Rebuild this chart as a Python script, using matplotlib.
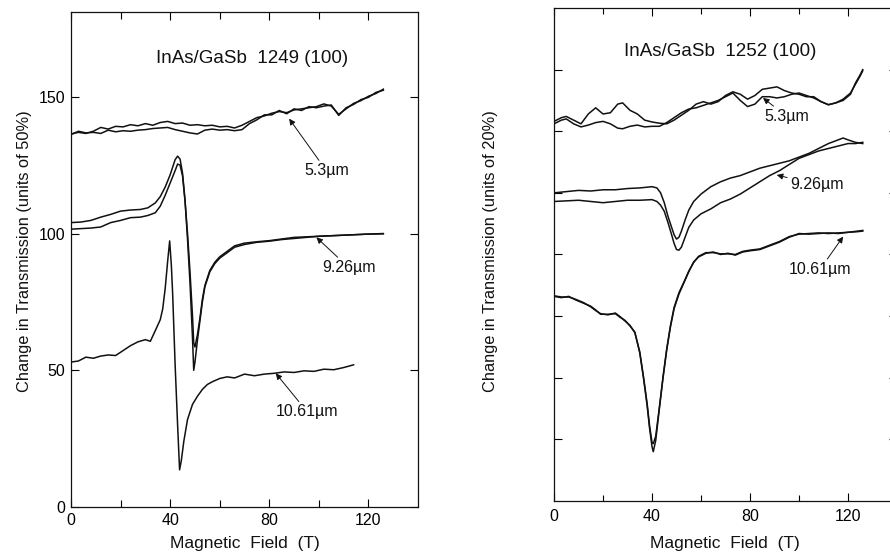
import numpy as np
import matplotlib
matplotlib.use("Agg")
import matplotlib.pyplot as plt
from matplotlib.ticker import MultipleLocator

plt.rcParams['font.family'] = ['Liberation Sans', 'DejaVu Sans']

# ---- sample 1249 (left), units of 50% ----
x53_l = [0, 3, 6, 9, 12, 15, 18, 21, 24, 27, 30, 33, 36, 39, 42, 45, 48, 51, 54, 57, 60, 63,
         66, 69, 72, 75, 78, 81, 84, 87, 90, 93, 96, 99, 102, 105, 108, 111, 114, 117, 120, 123, 126]
y53_l_a = [136.4, 137.0, 136.6, 137.4, 138.8, 138.2, 139.2, 139.0, 139.8, 139.4, 140.2, 139.6, 140.6,
           141.0, 140.2, 140.4, 139.6, 139.8, 139.4, 139.6, 139.0, 139.2, 138.6, 139.6, 141.0, 142.4,
           143.0, 144.0, 144.6, 144.2, 145.2, 145.6, 146.0, 146.4, 147.4, 146.6, 143.6, 145.6, 147.6,
           148.6, 150.2, 151.2, 152.8]
y53_l_b = [136.2, 137.4, 136.8, 137.0, 136.6, 137.8, 137.2, 137.6, 137.4, 137.8, 138.0, 138.4, 138.6,
           138.8, 138.0, 137.4, 136.8, 136.4, 137.8, 138.2, 137.8, 138.0, 137.6, 138.0, 140.2, 141.6,
           143.4, 143.4, 145.0, 143.8, 145.6, 145.0, 146.4, 146.0, 146.6, 147.0, 143.2, 146.0, 147.2,
           149.0, 149.8, 151.6, 152.4]

x926_l = [0, 4, 8, 12, 16, 20, 24, 28, 31, 34, 36, 38, 40, 42, 43, 44, 45, 46, 47, 48, 49, 49.5, 50,
          51, 52, 53, 54, 56, 58, 60, 63, 66, 70, 75, 80, 85, 90, 95, 100, 105, 110, 115, 120, 126]
y926_l_a = [104.0, 104.2, 104.8, 106.0, 107.0, 108.2, 108.6, 108.8, 109.4, 111.2, 113.5, 117.0, 121.5,
            127.0, 128.3, 127.2, 122, 112, 100, 86, 70, 60, 58.5, 63, 69, 76, 81, 86.5, 89.5, 91.5,
            93.5, 95.5, 96.5, 97.0, 97.4, 98.0, 98.6, 98.8, 99.0, 99.2, 99.4, 99.6, 99.8, 100.0]
y926_l_b = [101.6, 101.8, 102.0, 102.4, 104.0, 104.8, 105.8, 106.0, 106.6, 107.6, 110.0, 114.0, 118.5,
            123.0, 125.4, 125.0, 121, 112, 98, 82, 62, 50, 53, 61, 68, 75, 80.5, 86, 89, 91, 93, 95,
            96, 96.8, 97.2, 97.8, 98.2, 98.6, 99.0, 99.2, 99.4, 99.6, 99.8, 99.9]

x1061_l = [0, 3, 6, 9, 12, 15, 18, 21, 24, 27, 30, 32, 34, 36, 37, 38, 39, 39.8, 40.5, 41, 42, 43,
           43.8, 44.5, 45.5, 47, 49, 51, 53, 55, 57, 60, 63, 66, 70, 74, 78, 82, 86, 90, 94, 98,
           102, 106, 110, 114]
y1061_l = [53.0, 53.4, 54.8, 54.4, 55.2, 55.6, 55.4, 57.2, 59.0, 60.4, 61.2, 60.6, 64.5, 68.5, 72.5,
           80.0, 90.0, 97.3, 88, 78, 52, 30, 13.6, 17, 24, 32, 37.5, 40.5, 43, 44.8, 45.8, 47.0,
           47.6, 47.2, 48.6, 48.0, 48.6, 48.9, 49.4, 49.2, 49.8, 49.6, 50.4, 50.2, 51.0, 52.0]

# ---- sample 1252 (right), units of 20% ----
x53_r = [0, 3, 5, 8, 11, 14, 17, 20, 23, 26, 28, 31, 34, 37, 40, 43, 46, 49, 52, 55, 58, 61, 64,
         67, 70, 73, 76, 79, 82, 85, 88, 91, 94, 97, 100, 103, 106, 109, 112, 115, 118, 121, 123,
         125, 126]
y53_r_a = [6.16, 6.22, 6.24, 6.18, 6.12, 6.28, 6.38, 6.28, 6.30, 6.44, 6.46, 6.34, 6.28, 6.18, 6.15,
           6.13, 6.12, 6.18, 6.26, 6.34, 6.44, 6.48, 6.44, 6.48, 6.58, 6.64, 6.60, 6.52, 6.58, 6.68,
           6.70, 6.72, 6.66, 6.62, 6.60, 6.56, 6.56, 6.48, 6.43, 6.46, 6.50, 6.60, 6.78, 6.92, 7.00]
y53_r_b = [6.12, 6.18, 6.20, 6.12, 6.07, 6.10, 6.14, 6.16, 6.12, 6.05, 6.04, 6.08, 6.10, 6.07, 6.08,
           6.08, 6.14, 6.22, 6.30, 6.36, 6.38, 6.42, 6.46, 6.50, 6.56, 6.62, 6.50, 6.40, 6.44, 6.56,
           6.56, 6.54, 6.56, 6.60, 6.62, 6.58, 6.54, 6.48, 6.43, 6.46, 6.52, 6.62, 6.76, 6.90, 6.98]

x926_r = [0, 5, 10, 15, 20, 25, 30, 35, 40, 42, 43.5, 45, 46.5, 48, 49, 50, 51, 52, 53.5, 55, 57,
          60, 64, 68, 72, 76, 80, 84, 88, 92, 96, 100, 104, 108, 112, 116, 118, 120, 123, 126]
y926_r_a = [5.00, 5.02, 5.04, 5.03, 5.05, 5.05, 5.07, 5.08, 5.10, 5.08, 5.00, 4.84, 4.62, 4.44, 4.32,
            4.25, 4.28, 4.38, 4.56, 4.72, 4.86, 4.98, 5.10, 5.18, 5.24, 5.28, 5.34, 5.40, 5.44, 5.48,
            5.52, 5.58, 5.64, 5.72, 5.80, 5.86, 5.89, 5.86, 5.82, 5.80]
y926_r_b = [4.86, 4.87, 4.88, 4.86, 4.84, 4.86, 4.88, 4.88, 4.89, 4.86, 4.80, 4.70, 4.52, 4.32, 4.18,
            4.08, 4.07, 4.12, 4.28, 4.44, 4.56, 4.66, 4.74, 4.84, 4.90, 4.98, 5.08, 5.18, 5.28, 5.36,
            5.46, 5.56, 5.62, 5.68, 5.72, 5.76, 5.78, 5.80, 5.80, 5.82]

x1061_r = [0, 3, 6, 9, 12, 15, 17, 19, 22, 25, 27, 29, 31, 33, 35, 36.5, 38, 39, 40, 40.5, 41.5, 43,
           44.5, 46, 47.5, 49, 51, 53, 55, 57, 59, 62, 65, 68, 71, 74, 77, 80, 84, 88, 92, 96, 100,
           104, 108, 112, 116, 120, 124, 126]
y1061_r_a = [3.32, 3.30, 3.32, 3.26, 3.21, 3.16, 3.10, 3.03, 3.03, 3.04, 2.98, 2.93, 2.84, 2.74, 2.40,
             2.00, 1.55, 1.18, 0.88, 0.80, 0.98, 1.50, 2.00, 2.45, 2.82, 3.12, 3.36, 3.54, 3.72, 3.88,
             3.96, 4.02, 4.04, 4.00, 4.02, 3.99, 4.04, 4.06, 4.08, 4.14, 4.20, 4.28, 4.34, 4.33, 4.34,
             4.35, 4.34, 4.36, 4.37, 4.38]
y1061_r_b = [3.33, 3.31, 3.31, 3.27, 3.22, 3.15, 3.09, 3.04, 3.02, 3.05, 2.99, 2.92, 2.85, 2.73, 2.42,
             2.02, 1.58, 1.22, 0.95, 0.93, 1.05, 1.52, 2.02, 2.47, 2.84, 3.14, 3.38, 3.55, 3.73, 3.87,
             3.97, 4.03, 4.03, 4.01, 4.01, 4.00, 4.05, 4.07, 4.09, 4.15, 4.21, 4.29, 4.33, 4.34, 4.35,
             4.34, 4.35, 4.36, 4.38, 4.39]

ink = '#111111'
lw = 1.1

fig = plt.figure(figsize=(8.9, 5.54), dpi=100)
ax1 = fig.add_axes([0.0798, 0.0848, 0.3899, 0.8935])
ax2 = fig.add_axes([0.6225, 0.0957, 0.3854, 0.8899])

# left panel
for xs, ys in [(x53_l, y53_l_a), (x53_l, y53_l_b), (x926_l, y926_l_a), (x926_l, y926_l_b),
               (x1061_l, y1061_l)]:
    ax1.plot(xs, ys, color=ink, lw=lw)
ax1.set_xlim(0, 140)
ax1.set_ylim(0, 181)
ax1.set_xticks([0, 40, 80, 120])
ax1.set_xticks([20, 60, 100], minor=True)
ax1.set_yticks([0, 50, 100, 150])
ax1.tick_params(direction='in', top=True, right=True, length=6, width=0.8, labelsize=11.5, pad=4)
ax1.tick_params(which='minor', direction='in', top=True, length=5, width=0.8)
ax1.text(73, 164, 'InAs/GaSb  1249 (100)', ha='center', va='center', fontsize=13.5, color=ink)
ax1.set_xlabel('Magnetic  Field  (T)', fontsize=12.5, color=ink)
ax1.xaxis.set_label_coords(0.50, -0.058)
ax1.set_ylabel('Change in Transmission (units of 50%)', fontsize=11.8, color=ink)
ax1.yaxis.set_label_coords(-0.112, 0.517)

arrow = dict(arrowstyle='-|>', lw=0.7, color=ink, mutation_scale=9, shrinkA=0, shrinkB=0)
ax1.annotate('5.3\u00b5m', xy=(88, 142), xytext=(103, 123), ha='center', va='center',
             fontsize=11.5, color=ink, arrowprops=arrow)
ax1.annotate('9.26\u00b5m', xy=(99, 98.6), xytext=(112, 87.6), ha='center', va='center',
             fontsize=11.5, color=ink, arrowprops=arrow)
ax1.annotate('10.61\u00b5m', xy=(82.6, 48.9), xytext=(95.3, 34.8), ha='center', va='center',
             fontsize=11.5, color=ink, arrowprops=arrow)

# right panel
for xs, ys in [(x53_r, y53_r_a), (x53_r, y53_r_b), (x926_r, y926_r_a), (x926_r, y926_r_b),
               (x1061_r, y1061_r_a), (x1061_r, y1061_r_b)]:
    ax2.plot(xs, ys, color=ink, lw=lw)
ax2.set_xlim(0, 140)
ax2.set_ylim(0, 8)
ax2.set_xticks([0, 40, 80, 120])
ax2.set_xticks([20, 60, 100], minor=True)
ax2.set_yticks(range(1, 8))
ax2.tick_params(direction='in', top=True, right=True, length=6, width=0.8, labelsize=11.5,
                labelleft=False, pad=6)
ax2.tick_params(which='minor', direction='in', top=True, length=4, width=0.8)
ax2.text(67.8, 7.29, 'InAs/GaSb  1252 (100)', ha='center', va='center', fontsize=13.5, color=ink)
ax2.set_xlabel('Magnetic  Field  (T)', fontsize=12.5, color=ink)
ax2.xaxis.set_label_coords(0.4985, -0.072)
ax2.set_ylabel('Change in Transmission (units of 20%)', fontsize=11.8, color=ink)
ax2.yaxis.set_label_coords(-0.163, 0.507)

ax2.annotate('5.3\u00b5m', xy=(85.3, 6.54), xytext=(95, 6.24), ha='center', va='center',
             fontsize=11.5, color=ink, arrowprops=arrow)
ax2.annotate('9.26\u00b5m', xy=(90.9, 5.29), xytext=(107.2, 5.13), ha='center', va='center',
             fontsize=11.5, color=ink, arrowprops=arrow)
ax2.annotate('10.61\u00b5m', xy=(118, 4.29), xytext=(108.6, 3.76), ha='center', va='center',
             fontsize=11.5, color=ink, arrowprops=arrow)

for ax in (ax1, ax2):
    for s in ax.spines.values():
        s.set_linewidth(0.9)
        s.set_color(ink)

fig.savefig('out.png', dpi=100)
